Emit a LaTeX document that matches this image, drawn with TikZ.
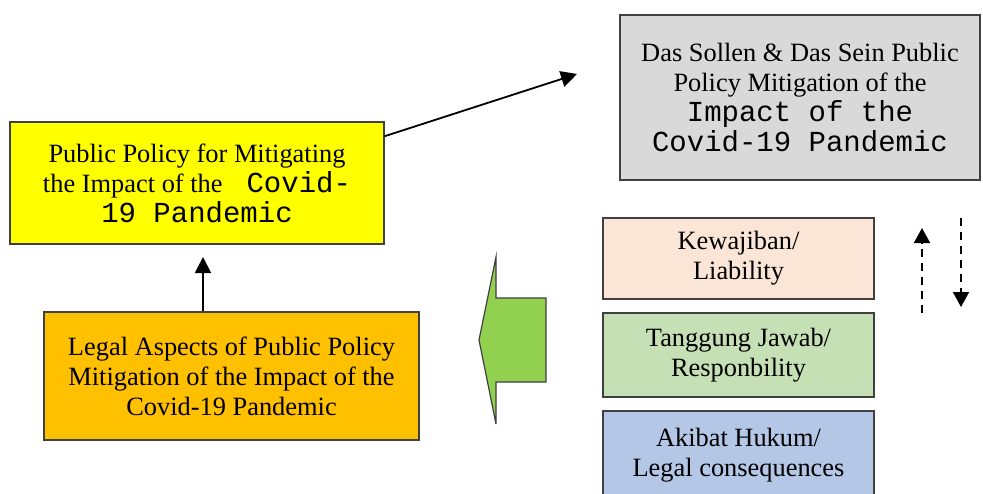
\documentclass[tikz,border=0pt]{standalone}
\usepackage{fontspec}
\setmainfont{Liberation Serif}
\newfontfamily\monofnt{Liberation Mono}
\usetikzlibrary{arrows.meta}
\definecolor{boxyellow}{HTML}{FFFF00}
\definecolor{boxgray}{HTML}{D9D9D9}
\definecolor{boxorange}{HTML}{FFC000}
\definecolor{boxpeach}{HTML}{FBE5D6}
\definecolor{boxgreen}{HTML}{C5E0B4}
\definecolor{boxblue}{HTML}{B4C7E7}
\definecolor{arrowgreen}{HTML}{92D050}
\definecolor{edge}{HTML}{404040}
\newcommand{\mymono}[1]{{\monofnt\fontsize{29}{30}\selectfont #1}}
\tikzset{
  boxnode/.style={draw=edge, line width=1.3pt, rectangle, inner sep=0pt, align=center,
    font=\fontsize{26.4}{30}\selectfont},
  solidarrow/.style={line width=1.8pt, -{Triangle[length=16pt,width=16pt]}},
  dasharrow/.style={line width=1.8pt, dash pattern=on 8pt off 6pt, -{Triangle[length=15pt,width=16pt]}}
}
\begin{document}
\begin{tikzpicture}[x=1pt,y=-1pt]
\useasboundingbox (0,0) rectangle (983,493);
\clip (0,0) rectangle (983,493);

\node[boxnode, fill=boxyellow, minimum width=374pt, minimum height=122pt] (yellow) at (197,183)
  {Public Policy for Mitigating\\the Impact of the \mymono{ Covid-}\\\mymono{19 Pandemic}};

\node[boxnode, fill=boxgray, minimum width=360pt, minimum height=165pt] (gray) at (800,97.5)
  {Das Sollen \& Das Sein Public\\Policy Mitigation of the\\\mymono{Impact of the}\\\mymono{Covid-19 Pandemic}};

\node[boxnode, fill=boxorange, minimum width=375pt, minimum height=128pt] (orange) at (231.5,376)
  {Legal Aspects of Public Policy\\Mitigation of the Impact of the\\Covid-19 Pandemic};

\node[boxnode, fill=boxpeach, minimum width=271pt, minimum height=81pt] (kew) at (738.5,258.5)
  {Kewajiban/\\Liability};
\node[boxnode, fill=boxgreen, minimum width=271pt, minimum height=84pt] (tang) at (738.5,355)
  {Tanggung Jawab/\\Responbility};
\node[boxnode, fill=boxblue, minimum width=271pt, minimum height=89pt] (akibat) at (738.5,455.5)
  {Akibat Hukum/\\Legal consequences};

% green block arrow
\draw[draw=edge, line width=1.2pt, fill=arrowgreen, line join=miter]
  (479,340) -- (496,257) -- (496,298) -- (546,298) -- (546,382) -- (496,382) -- (496,424) -- cycle;

% arrow from yellow box towards gray box
\coordinate (diagend) at (577,74);
\draw[solidarrow] (yellow.14.4) -- (diagend);

% arrow from orange box up to yellow box
\coordinate (uptip) at (203,257);
\draw[solidarrow] (orange.north -| uptip) -- (uptip);

% dashed up / down arrows
\coordinate (dupstart) at (922,313);
\coordinate (duptip) at (922,228);
\coordinate (ddownstart) at (961,218);
\coordinate (ddowntip) at (961,307);
\draw[dasharrow] (dupstart) -- (duptip);
\draw[dasharrow] (ddownstart) -- (ddowntip);
\end{tikzpicture}
\end{document}
